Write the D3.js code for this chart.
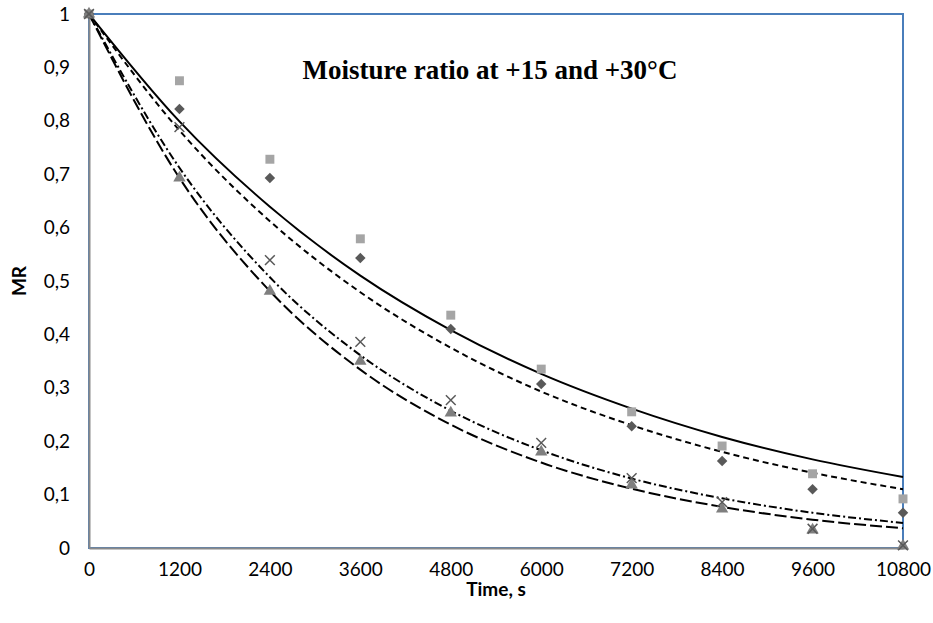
<!DOCTYPE html>
<html>
<head>
<meta charset="utf-8">
<script src="https://cdn.jsdelivr.net/npm/d3@7/dist/d3.min.js"></script>
<style>
  html, body { margin: 0; padding: 0; background: #fff; }
  svg { display: block; }
</style>
</head>
<body>
<svg id="chart" width="933" height="623"></svg>
<script>
// ---- Data ----
const times = [0, 1200, 2400, 3600, 4800, 6000, 7200, 8400, 9600, 10800];
const xTickLabels = ["0", "1200", "2400", "3600", "4800", "6000", "7200", "8400", "9600", "10800"];
const yTickValues = [0, 0.1, 0.2, 0.3, 0.4, 0.5, 0.6, 0.7, 0.8, 0.9, 1];
const yTickLabels = ["0", "0,1", "0,2", "0,3", "0,4", "0,5", "0,6", "0,7", "0,8", "0,9", "1"];

// Experimental points
const squaresMR   = [1, 0.875, 0.728, 0.579, 0.436, 0.335, 0.255, 0.191, 0.139, 0.092];
const diamondsMR  = [1, 0.822, 0.693, 0.543, 0.410, 0.307, 0.228, 0.163, 0.110, 0.066];
const crossesMR   = [1, 0.788, 0.539, 0.386, 0.277, 0.197, 0.131, 0.086, 0.036, 0.005];
const trianglesMR = [1, 0.693, 0.481, 0.350, 0.253, 0.180, 0.118, 0.073, 0.034, 0.004];

// Model curves (at each time step)
const solidFit    = [1, 0.799, 0.639, 0.510, 0.408, 0.326, 0.261, 0.208, 0.166, 0.133];
const dashedFit   = [1, 0.782, 0.612, 0.479, 0.375, 0.293, 0.230, 0.180, 0.141, 0.110];
const dashDotFit  = [1, 0.712, 0.507, 0.361, 0.257, 0.183, 0.130, 0.093, 0.066, 0.047];
const longDashFit = [1, 0.693, 0.481, 0.334, 0.231, 0.160, 0.111, 0.077, 0.053, 0.037];

const titleText = "Moisture ratio at +15 and +30°C";
const xTitle = "Time, s";
const yTitle = "MR";

// ---- Layout ----
const svg = d3.select("#chart");
const pLeft = 89, pRight = 903, pTop = 14, pBottom = 548;

const x = d3.scaleLinear().domain([0, 10800]).range([pLeft, pRight]);
const y = d3.scaleLinear().domain([0, 1]).range([pBottom, pTop]);

const labelFont = "Lato, 'Open Sans', 'Noto Sans', sans-serif";

// Plot area border (blue top/right)
svg.append("rect")
  .attr("x", pLeft).attr("y", pTop)
  .attr("width", pRight - pLeft).attr("height", pBottom - pTop)
  .attr("fill", "none").attr("stroke", "#4A7EBB").attr("stroke-width", 2);

// Axes
const xAxis = d3.axisBottom(x).tickValues(times).tickFormat((d, i) => xTickLabels[i]).tickSize(0).tickPadding(15);
const yAxis = d3.axisLeft(y).tickValues(yTickValues).tickFormat((d, i) => yTickLabels[i]).tickSize(0).tickPadding(19);

const gx = svg.append("g").attr("transform", `translate(0,${pBottom})`).call(xAxis);
const gy = svg.append("g").attr("transform", `translate(${pLeft},0)`).call(yAxis);
[gx, gy].forEach(g => {
  g.select(".domain").attr("stroke", "#898989").attr("stroke-width", 2);
  g.selectAll("text").attr("font-family", labelFont).attr("font-size", 19).attr("fill", "#000");
});

// Curves
const line = d3.line().x((d, i) => x(times[i])).y(d => y(d)).curve(d3.curveMonotoneX);
const curves = [
  { data: solidFit, dash: null },
  { data: dashedFit, dash: "6,4" },
  { data: dashDotFit, dash: "8,3,2,3" },
  { data: longDashFit, dash: "12,4" }
];
svg.append("g").selectAll("path").data(curves).join("path")
  .attr("d", d => line(d.data))
  .attr("fill", "none")
  .attr("stroke", "#000")
  .attr("stroke-width", 2)
  .attr("stroke-dasharray", d => d.dash);

// Markers
const mk = svg.append("g");
const sq = d3.symbol().type(d3.symbolSquare).size(80);
const dia = d3.symbol().type(d3.symbolDiamond2).size(70);
const tri = d3.symbol().type(d3.symbolTriangle).size(66);
const crs = d3.symbol().type(d3.symbolX).size(64);

mk.append("g").selectAll("path").data(squaresMR).join("path")
  .attr("transform", (d, i) => `translate(${x(times[i])},${y(d)})`)
  .attr("d", sq).attr("fill", "#A5A5A5");
mk.append("g").selectAll("path").data(diamondsMR).join("path")
  .attr("transform", (d, i) => `translate(${x(times[i])},${y(d)})`)
  .attr("d", dia).attr("fill", "#595959");
mk.append("g").selectAll("path").data(trianglesMR).join("path")
  .attr("transform", (d, i) => `translate(${x(times[i])},${y(d)})`)
  .attr("d", tri).attr("fill", "#7F7F7F");
mk.append("g").selectAll("path").data(crossesMR).join("path")
  .attr("transform", (d, i) => `translate(${x(times[i])},${y(d)})`)
  .attr("d", crs).attr("fill", "none").attr("stroke", "#595959").attr("stroke-width", 1.5);

// Titles
svg.append("text")
  .attr("x", 490).attr("y", 79)
  .attr("text-anchor", "middle")
  .attr("font-family", "'Liberation Serif', 'Times New Roman', serif")
  .attr("font-weight", "bold").attr("font-size", 27)
  .text(titleText);

svg.append("text")
  .attr("x", 496).attr("y", 596)
  .attr("text-anchor", "middle")
  .attr("font-family", labelFont)
  .attr("font-weight", "bold").attr("font-size", 19)
  .text(xTitle);

svg.append("text")
  .attr("transform", "translate(26,281) rotate(-90)")
  .attr("text-anchor", "middle")
  .attr("font-family", labelFont)
  .attr("font-weight", "bold").attr("font-size", 19)
  .text(yTitle);
</script>
</body>
</html>
